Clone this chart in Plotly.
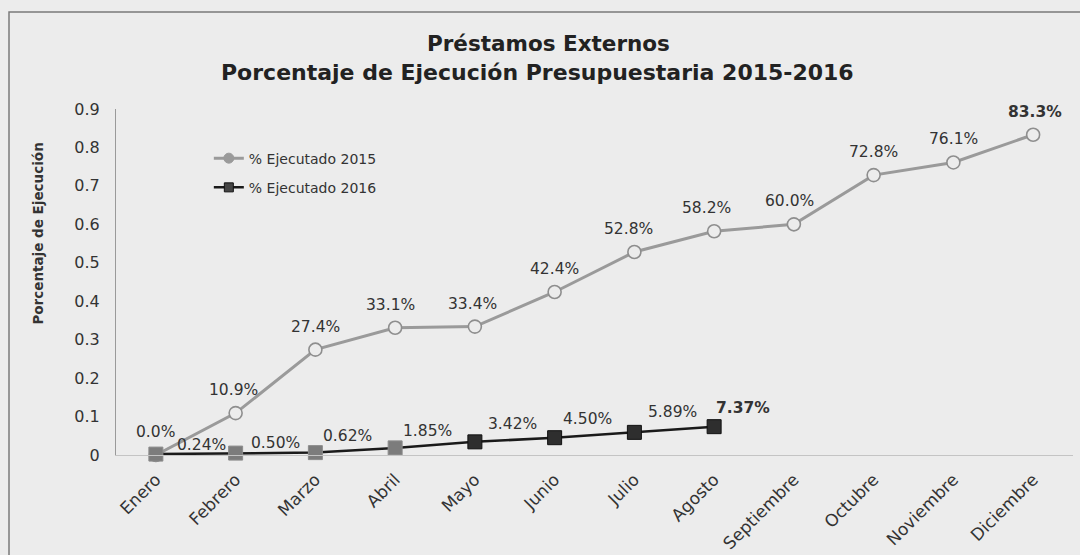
import plotly.graph_objects as go

# ---- data ----
months = ["Enero", "Febrero", "Marzo", "Abril", "Mayo", "Junio", "Julio", "Agosto",
          "Septiembre", "Octubre", "Noviembre", "Diciembre"]
ejec_2015 = [0.000, 0.109, 0.274, 0.331, 0.334, 0.424, 0.528, 0.582, 0.600, 0.728, 0.761, 0.833]
labels_2015 = ["0.0%", "10.9%", "27.4%", "33.1%", "33.4%", "42.4%", "52.8%", "58.2%",
               "60.0%", "72.8%", "76.1%", "83.3%"]
months_2016 = months[:8]
ejec_2016 = [0.0024, 0.0050, 0.0062, 0.0185, 0.0342, 0.0450, 0.0589, 0.0737]
labels_2016 = ["0.24%", "0.50%", "0.62%", "1.85%", "3.42%", "4.50%", "5.89%", "7.37%"]
y_ticks = [0, 0.1, 0.2, 0.3, 0.4, 0.5, 0.6, 0.7, 0.8, 0.9]
y_tick_text = ["0", "0.1", "0.2", "0.3", "0.4", "0.5", "0.6", "0.7", "0.8", "0.9"]

title_1 = "Préstamos Externos"
title_2 = "Porcentaje de Ejecución Presupuestaria 2015-2016"
y_title = "Porcentaje de Ejecución"
name_2015 = "% Ejecutado 2015"
name_2016 = "% Ejecutado 2016"

# ---- styles ----
BG = "#ececec"
FONT = "DejaVu Sans"
TXT = "#333333"
C15 = "#9a9a9a"
C16 = "#1a1a1a"

fig = go.Figure()

fig.add_trace(go.Scatter(
    x=months, y=ejec_2015, mode="lines+markers", name=name_2015, showlegend=False,
    line=dict(color=C15, width=3),
    marker=dict(symbol="circle", size=13, color=BG, line=dict(color="#8e8e8e", width=1.6)),
    cliponaxis=False,
))

m16_fill = ["#7c7c7c"] * 4 + ["#2e2e2e"] * 4
m16_line = ["#8c8c8c"] * 4 + ["#111111"] * 4
fig.add_trace(go.Scatter(
    x=months_2016, y=ejec_2016, mode="lines+markers", name=name_2016, showlegend=False,
    line=dict(color=C16, width=2.5),
    marker=dict(symbol="square", size=14, color=m16_fill, line=dict(color=m16_line, width=1)),
    cliponaxis=False,
))

# legend entries (legend-only proxies)
fig.add_trace(go.Scatter(x=[None], y=[None], mode="lines+markers", name=name_2015,
                         line=dict(color=C15, width=3),
                         marker=dict(symbol="circle", size=10, color=C15,
                                     line=dict(color=C15, width=1)),
                         legendgroup="a"))
fig.add_trace(go.Scatter(x=[None], y=[None], mode="lines+markers", name=name_2016,
                         line=dict(color=C16, width=2.5),
                         marker=dict(symbol="square", size=9, color="#444444",
                                     line=dict(color="#111111", width=1)),
                         legendgroup="b"))

# data labels
LBL = 15.5
dx15 = [0, -2, 0, -5, -2, 0, -6, -8, -4, 0, 0, 2]
for i, (m, v, t) in enumerate(zip(months, ejec_2015, labels_2015)):
    bold = (i == len(months) - 1)
    fig.add_annotation(x=m, y=v, text=("<b>%s</b>" % t) if bold else t, showarrow=False,
                       xshift=dx15[i], yshift=23, yanchor="middle",
                       font=dict(family=FONT, size=LBL, color=TXT))

dx16 = [46, 40, 32, 32, 38, 33, 38, 29]
dy16 = [9, 10, 17, 17, 18, 19, 20, 19]
for i, (m, v, t) in enumerate(zip(months_2016, ejec_2016, labels_2016)):
    bold = (i == len(months_2016) - 1)
    fig.add_annotation(x=m, y=v, text=("<b>%s</b>" % t) if bold else t, showarrow=False,
                       xshift=dx16[i], yshift=dy16[i], yanchor="middle",
                       font=dict(family=FONT, size=LBL, color=TXT))

# titles
fig.add_annotation(xref="paper", yref="paper", x=0.452, y=1.0, yshift=66, yanchor="middle",
                   text="<b>%s</b>" % title_1, showarrow=False,
                   font=dict(family=FONT, size=21.5, color="#222222"))
fig.add_annotation(xref="paper", yref="paper", x=0.440, y=1.0, yshift=37, yanchor="middle",
                   text="<b>%s</b>" % title_2, showarrow=False,
                   font=dict(family=FONT, size=22, color="#222222"))
fig.add_annotation(xref="paper", yref="paper", x=0, xshift=-78, y=0.64, xanchor="center",
                   yanchor="middle", text="<b>%s</b>" % y_title,
                   textangle=-90, showarrow=False, font=dict(family=FONT, size=13.5, color=TXT))

# outer frame
fig.add_shape(type="rect", xref="paper", yref="paper", x0=-0.1118, x1=1.03, y0=-0.4, y1=1.2803,
              line=dict(color="#7a7a7a", width=1.5), fillcolor="rgba(0,0,0,0)", layer="below")

fig.update_layout(
    width=1080, height=555,
    margin=dict(l=116, r=7, t=109, b=100, autoexpand=False),
    paper_bgcolor=BG, plot_bgcolor=BG,
    font=dict(family=FONT, color=TXT),
    showlegend=True,
    legend=dict(x=0.097, y=0.903, xanchor="left", yanchor="top", bgcolor="rgba(0,0,0,0)",
                font=dict(family=FONT, size=14, color=TXT), tracegroupgap=8,
                traceorder="grouped"),
    xaxis=dict(type="category", showgrid=False, tickangle=-45, showline=True,
               linecolor="#c4c4c4", linewidth=1, ticks="", ticklabelstandoff=7,
               automargin=False,
               tickfont=dict(family=FONT, size=17, color=TXT), range=[-0.5, 11.5]),
    yaxis=dict(range=[0, 0.9], tickvals=y_ticks, ticktext=y_tick_text, showgrid=False,
               zeroline=False, showline=True, linecolor="#9a9a9a", linewidth=1, ticks="",
               automargin=False,
               ticklabelstandoff=12, tickfont=dict(family=FONT, size=16, color=TXT)),
)

fig.write_html("out.html", post_script="document.body.style.margin='0';",
               config={"displayModeBar": False})
